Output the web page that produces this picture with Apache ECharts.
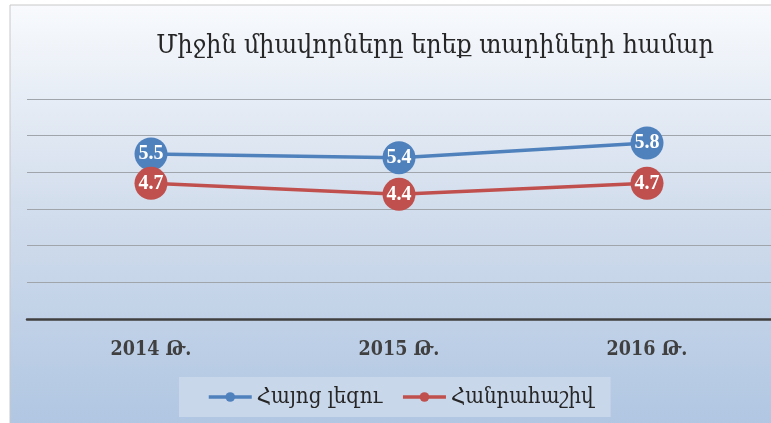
<!DOCTYPE html>
<html>
<head>
<meta charset="utf-8">
<script src="https://cdn.jsdelivr.net/npm/echarts@6/dist/echarts.min.js"></script>
<style>
  html, body { margin: 0; padding: 0; background: #fff; }
  #chart { width: 771px; height: 423px; }
</style>
</head>
<body>
<div id="chart"></div>
<script>
var titleText = 'Միջին միավորները երեք տարիների համար';
var years = ['2014 Թ.', '2015 Թ.', '2016 Թ.'];
var seriesNames = ['Հայոց լեզու', 'Հանրահաշիվ'];
var armenian = [5.5, 5.4, 5.8];
var algebra = [4.7, 4.4, 4.7];
var colors = ['#4f81bd', '#c0504d'];

var serif = '"DejaVu Serif Condensed", "DejaVu Serif", serif';

var ec = echarts.init(document.getElementById('chart'));

function makeSeries(name, values, color) {
  return {
    name: name,
    type: 'line',
    data: values,
    symbol: 'circle',
    symbolSize: 33,
    lineStyle: { color: color, width: 3.5 },
    itemStyle: { color: color },
    label: {
      show: true,
      position: 'inside',
      color: '#fff',
      fontFamily: '"Liberation Serif", serif',
      fontWeight: 'bold',
      fontSize: 20
    }
  };
}

ec.setOption({
  animation: false,
  graphic: [{
    type: 'rect',
    z: -10,
    shape: { x: 10, y: 5, width: 800, height: 440 },
    style: {
      stroke: '#c8c8c8',
      lineWidth: 1,
      fill: new echarts.graphic.LinearGradient(0, 0, 0, 1, [
        { offset: 0, color: '#f8fafd' },
        { offset: 0.45, color: '#d3deed' },
        { offset: 1, color: '#adc4e1' }
      ])
    }
  }],
  title: {
    text: titleText,
    left: 430,
    textAlign: 'center',
    top: 28,
    textStyle: {
      fontFamily: serif,
      fontWeight: 'normal',
      fontSize: 26.5,
      color: '#262626'
    }
  },
  legend: {
    data: seriesNames,
    left: 179,
    top: 377,
    itemWidth: 43,
    itemHeight: 12,
    itemGap: 19,
    padding: [9, 17, 9, 28],
    backgroundColor: '#c9d7ea',
    lineStyle: { width: 3.5 },
    textStyle: {
      fontFamily: serif,
      fontSize: 22,
      color: '#262626'
    }
  },
  grid: {
    left: 27,
    right: -4,
    top: 99,
    bottom: 104,
    containLabel: false
  },
  xAxis: {
    type: 'category',
    data: years,
    boundaryGap: true,
    axisLine: { lineStyle: { color: '#404040', width: 2.5 } },
    axisTick: { show: false },
    axisLabel: {
      margin: 21,
      fontFamily: serif,
      fontWeight: 'bold',
      fontSize: 19.5,
      color: '#404040'
    }
  },
  yAxis: {
    type: 'value',
    min: 1,
    max: 7,
    interval: 1,
    axisLine: { show: false },
    axisTick: { show: false },
    axisLabel: { show: false },
    splitLine: { lineStyle: { color: '#a0a4ab', width: 1 } }
  },
  series: [
    makeSeries(seriesNames[0], armenian, colors[0]),
    makeSeries(seriesNames[1], algebra, colors[1])
  ]
});
</script>
</body>
</html>
